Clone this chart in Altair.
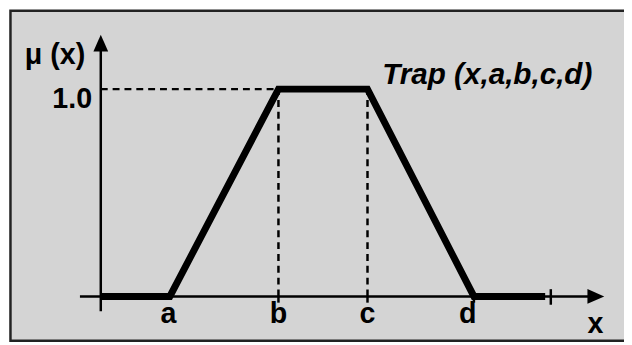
import altair as alt
import pandas as pd

# ---- data ----
# breakpoints of the trapezoidal membership function (x, mu)
trap_x = [0.0, 1.59, 4.09, 6.14, 8.59, 10.23]
trap_mu = [0.0, 0.0, 1.0, 1.0, 0.0, 0.0]

# axis tick labels under the x axis
tick_names = ["a", "b", "c", "d"]
tick_pos = [1.59, 4.09, 6.14, 8.59]
tick_label_pos = [1.56, 4.09, 6.14, 8.45]

# y label value
y_top_label = "1.0"
y_top_value = 1.0

# annotation
func_label = "Trap (x,a,b,c,d)"
y_axis_title = "μ (x)"
x_axis_title = "x"

# axis extents (data units)
x_axis_start, x_axis_end, x_arrow_tip = -0.48, 11.3, 11.59
y_axis_start, y_axis_end, y_arrow_tip = -0.071, 1.2, 1.262
end_tick_x = 10.36

BG = "#d4d4d4"
FONT = "Liberation Sans"
FS = 29

xs = alt.Scale(domain=[-2.136, 12.045], nice=False, zero=False)
ys = alt.Scale(domain=[-0.219, 1.381], nice=False, zero=False)


def X(f):
    return alt.X(f, type="quantitative", scale=xs, axis=None)


def Y(f):
    return alt.Y(f, type="quantitative", scale=ys, axis=None)


# frame
frame = alt.Chart(pd.DataFrame({"k": [0]})).mark_rect(
    fill=BG, stroke="#222222", strokeWidth=2.5
).encode(x=alt.value(2.5), x2=alt.value(700), y=alt.value(0.5), y2=alt.value(335))

# axes lines
axes_df = pd.DataFrame({
    "x": [x_axis_start, 0.0],
    "x2": [x_axis_end, 0.0],
    "y": [0.0, y_axis_start],
    "y2": [0.0, y_axis_end],
})
axes = alt.Chart(axes_df).mark_rule(color="black", strokeWidth=2.5).encode(
    x=X("x"), x2="x2", y=Y("y"), y2="y2"
)

# small ticks
ticks_df = pd.DataFrame({
    "x": tick_pos[1:] + [end_tick_x],
    "y": [0.0, 0.0, 0.0, 0.035],
    "y2": [-0.03, -0.03, -0.03, -0.04],
})
ticks = alt.Chart(ticks_df).mark_rule(color="black", strokeWidth=2.5).encode(
    x=X("x"), y=Y("y"), y2="y2"
)

# dashed guide lines
b, c = trap_x[2], trap_x[3]
dash_df = pd.DataFrame({
    "x": [0.0, b, c],
    "x2": [b, b, c],
    "y": [y_top_value, 0.0, 0.0],
    "y2": [y_top_value, y_top_value, y_top_value],
})
dashes = alt.Chart(dash_df).mark_rule(
    color="black", strokeWidth=2.5, strokeDash=[7, 5]
).encode(x=X("x"), x2="x2", y=Y("y"), y2="y2")

# membership function
trap_df = pd.DataFrame({"x": trap_x, "mu": trap_mu, "o": list(range(len(trap_x)))})
trap = alt.Chart(trap_df).mark_line(
    color="black", strokeWidth=7, strokeCap="butt", strokeJoin="miter"
).encode(x=X("x"), y=Y("mu"), order="o:O")

# arrowheads
up_arrow = alt.Chart(pd.DataFrame({"x": [0.0], "y": [y_arrow_tip]})).mark_point(
    shape="M0,0L-0.44,1L0.44,1Z", size=1156, filled=True, color="black", opacity=1
).encode(x=X("x"), y=Y("y"))
right_arrow = alt.Chart(pd.DataFrame({"x": [x_arrow_tip], "y": [0.0]})).mark_point(
    shape="M0,0L-1,-0.44L-1,0.44Z", size=1156, filled=True, color="black", opacity=1
).encode(x=X("x"), y=Y("y"))

# tick labels
lab_df = pd.DataFrame({"x": tick_label_pos, "y": [-0.128] * 4, "t": tick_names})
labels = alt.Chart(lab_df).mark_text(
    font=FONT, fontWeight="bold", fontSize=FS, baseline="alphabetic", align="center",
    color="black"
).encode(x=X("x"), y=Y("y"), text="t")

xt = alt.Chart(pd.DataFrame({"x": [11.39], "y": [-0.176], "t": [x_axis_title]})).mark_text(
    font=FONT, fontWeight="bold", fontSize=FS, baseline="alphabetic", align="center",
    color="black"
).encode(x=X("x"), y=Y("y"), text="t")

one = alt.Chart(pd.DataFrame({"x": [-0.2], "y": [0.91], "t": [y_top_label]})).mark_text(
    font=FONT, fontWeight="bold", fontSize=FS, baseline="alphabetic", align="right",
    color="black"
).encode(x=X("x"), y=Y("y"), text="t")

mu = alt.Chart(pd.DataFrame({"x": [-1.75], "y": [1.119], "t": [y_axis_title]})).mark_text(
    font=FONT, fontWeight="bold", fontSize=FS, baseline="alphabetic", align="left",
    color="black"
).encode(x=X("x"), y=Y("y"), text="t")

fn = alt.Chart(pd.DataFrame({"x": [6.48], "y": [1.024], "t": [func_label]})).mark_text(
    font=FONT, fontWeight="bold", fontStyle="italic", fontSize=30, baseline="alphabetic",
    align="left", color="black"
).encode(x=X("x"), y=Y("y"), text="t")

chart = alt.layer(
    frame, dashes, axes, ticks, trap, up_arrow, right_arrow, labels, xt, one, mu, fn
).properties(
    width=624, height=336, padding=0, autosize="none", background="white"
).configure_view(stroke=None)

chart.save("out.html", embed_options={"renderer": "svg", "actions": False})
